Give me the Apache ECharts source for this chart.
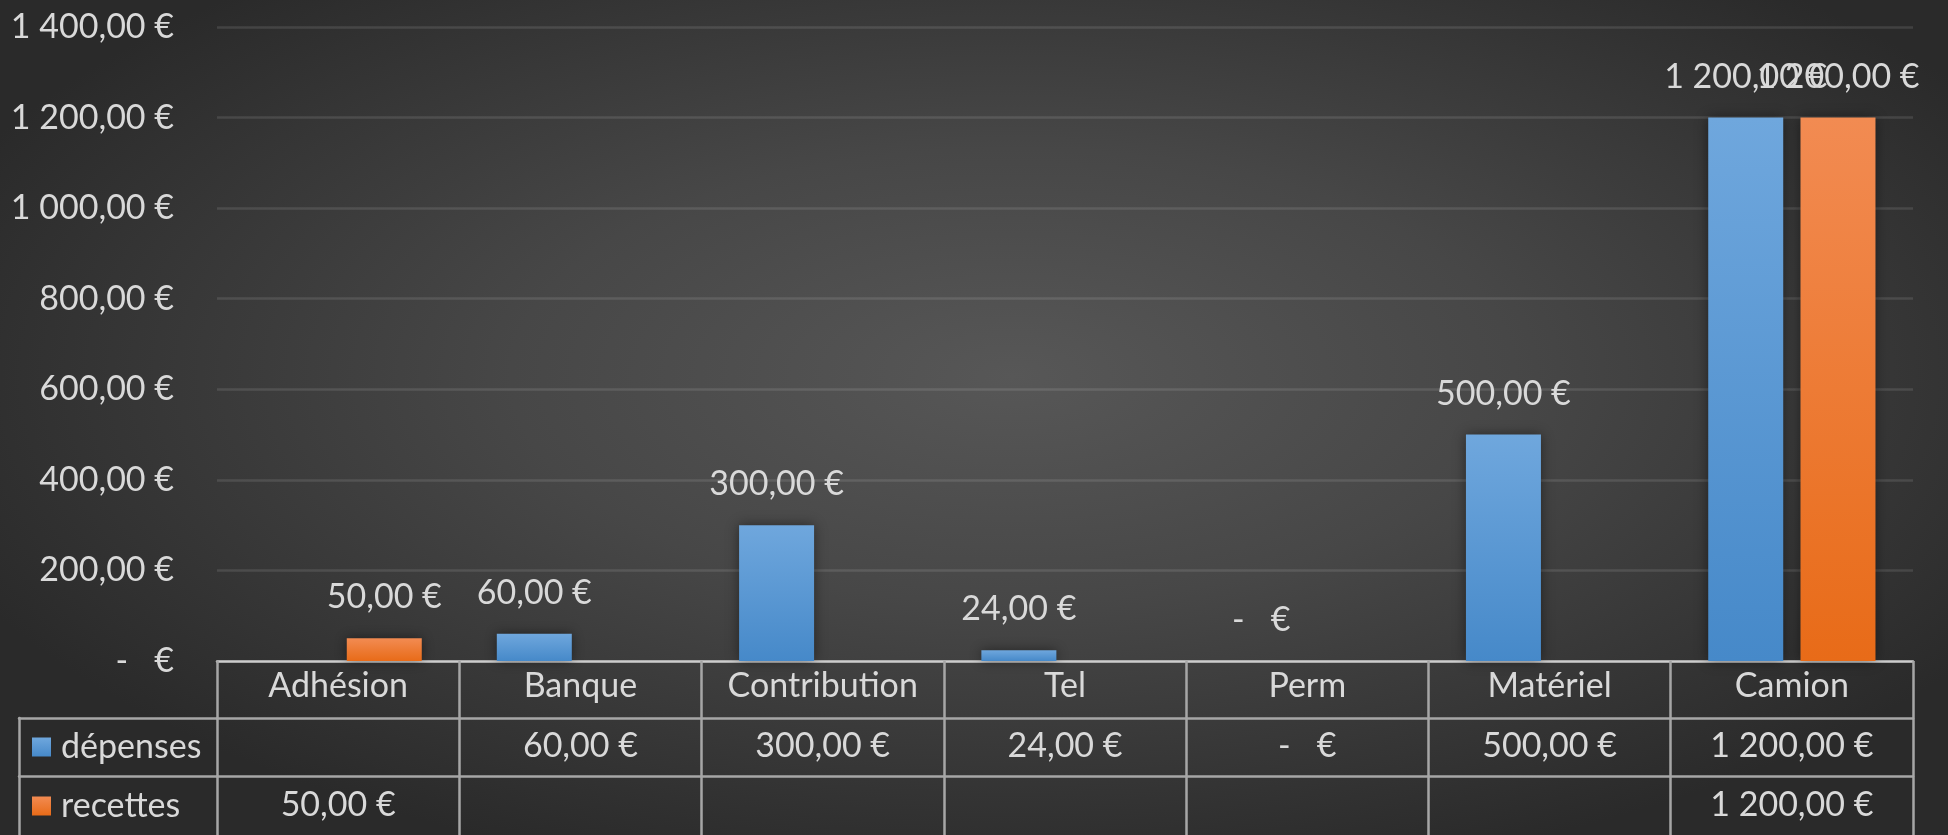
<!DOCTYPE html>
<html>
<head>
<meta charset="utf-8">
<script src="https://cdn.jsdelivr.net/npm/echarts@6/dist/echarts.min.js"></script>
<style>
html,body{margin:0;padding:0;}
#chart{width:1948px;height:835px;background:radial-gradient(ellipse at 52% 45%, #575757 0%, #474747 35%, #2a2a2a 80%);}
</style>
</head>
<body>
<div id="chart"></div>
<script>
const categories = ['Adhésion','Banque','Contribution','Tel','Perm','Matériel','Camion'];
const depenses = [null, 60, 300, 24, 0, 500, 1200];
const recettes = [50, null, null, null, null, null, 1200];
const yTicks = [0, 200, 400, 600, 800, 1000, 1200, 1400];
const seriesNames = ['dépenses','recettes'];

function fmt(v){
  if (v === null || v === undefined) return '';
  if (v === 0) return '-   €';
  const parts = v.toFixed(2).split('.');
  const int = parts[0].replace(/\B(?=(\d{3})+(?!\d))/g, ' ');
  return int + ',' + parts[1] + ' €';
}

const FONT = 'Lato';
const TXT = '#d9d9d9';
const LINE_MAIN = '#cccccc';
const LINE_TAB = '#a6a6a6';
const FS = 34;

// measure row-header text widths so legend keys line up on the left
const ctx = document.createElement('canvas').getContext('2d');
ctx.font = FS + 'px ' + FONT;
const headW = seriesNames.map(n => ctx.measureText(n).width);
const BLOCK = 172;

const blueGrad = new echarts.graphic.LinearGradient(0,0,0,1,[{offset:0,color:'#6fa7dd'},{offset:1,color:'#4689c9'}]);
const orangeGrad = new echarts.graphic.LinearGradient(0,0,0,1,[{offset:0,color:'#f28b52'},{offset:1,color:'#e86b18'}]);
const blueKey = new echarts.graphic.LinearGradient(0,0,0,1,[{offset:0,color:'#6fa7dd'},{offset:1,color:'#4689c9'}]);
const orangeKey = new echarts.graphic.LinearGradient(0,0,0,1,[{offset:0,color:'#f28b52'},{offset:1,color:'#e86b18'}]);

const chart = echarts.init(document.getElementById('chart'), null, {renderer:'canvas'});

function rowHeader(i, keyColor){
  return {
    interval:0, margin:i === 0 ? 12 : 13,
    formatter:(v) => '{m|}{s|}{t|' + v + '}{e|}',
    rich:{
      m:{width:19, height:19, backgroundColor:keyColor},
      s:{width:10},
      t:{color:TXT, fontFamily:FONT, fontSize:FS},
      e:{width:Math.max(0, BLOCK - 29 - headW[i])}
    }
  };
}

const tableAxisBase = {
  type:'category', data:categories, position:'bottom', gridIndex:0,
  axisLine:{show:true, onZero:false, lineStyle:{color:LINE_TAB, width:2.5}},
  axisTick:{show:false}, splitLine:{show:false}
};

chart.setOption({
  backgroundColor:'transparent',
  animation:false,
  textStyle:{fontFamily:FONT},
  grid:[
    {left:217, right:35, top:27, bottom:174},
    {left:19, width:198, top:27, bottom:174},
    {left:19, width:198, top:718, bottom:0}
  ],
  xAxis:[
    {
      type:'category', data:categories, gridIndex:0, position:'bottom',
      axisLine:{show:true, onZero:false, lineStyle:{color:LINE_MAIN, width:2.5}},
      axisTick:{show:true, interval:0, length:174, lineStyle:{color:LINE_TAB, width:2.5}},
      axisLabel:{interval:0, color:TXT, fontFamily:FONT, fontSize:FS, margin:8},
      splitLine:{show:false}
    },
    Object.assign({}, tableAxisBase, {
      offset:57,
      axisLabel:{interval:0, color:TXT, fontFamily:FONT, fontSize:FS, margin:11,
        formatter:(val, idx) => fmt(depenses[idx])}
    }),
    Object.assign({}, tableAxisBase, {
      offset:115,
      axisLabel:{interval:0, color:TXT, fontFamily:FONT, fontSize:FS, margin:12,
        formatter:(val, idx) => fmt(recettes[idx])}
    }),
    {
      type:'category', data:[seriesNames[0]], gridIndex:1, position:'bottom', offset:57,
      axisLine:{show:true, onZero:false, lineStyle:{color:LINE_TAB, width:2.5}},
      axisTick:{show:false},
      axisLabel:rowHeader(0, blueKey),
      splitLine:{show:false}
    },
    {
      type:'category', data:[seriesNames[1]], gridIndex:1, position:'bottom', offset:115,
      axisLine:{show:true, onZero:false, lineStyle:{color:LINE_TAB, width:2.5}},
      axisTick:{show:false},
      axisLabel:rowHeader(1, orangeKey),
      splitLine:{show:false}
    },
    {type:'category', data:[''], gridIndex:2, show:false, axisLine:{onZero:false}}
  ],
  yAxis:[
    {
      type:'value', gridIndex:0, min:yTicks[0], max:yTicks[yTicks.length-1], interval:200,
      axisLine:{show:false}, axisTick:{show:false},
      axisLabel:{color:TXT, fontFamily:FONT, fontSize:FS, margin:43, formatter:(v) => fmt(v)},
      splitLine:{show:true, lineStyle:{color:'rgba(255,255,255,0.11)', width:2.5}}
    },
    {type:'value', gridIndex:1, show:false, axisLine:{show:false}, splitLine:{show:false}},
    {
      type:'value', gridIndex:2, position:'left',
      axisLine:{show:true, onZero:false, lineStyle:{color:LINE_TAB, width:2.5}},
      axisTick:{show:false}, axisLabel:{show:false}, splitLine:{show:false}
    }
  ],
  series:[
    {
      name:seriesNames[0], type:'bar', xAxisIndex:0, yAxisIndex:0, data:depenses,
      barWidth:75, barGap:'23%',
      itemStyle:{color:blueGrad, shadowBlur:12, shadowColor:'rgba(0,0,0,0.45)'},
      label:{show:true, position:'top', distance:24, color:TXT, fontFamily:FONT, fontSize:FS,
        formatter:(p) => fmt(p.value)}
    },
    {
      name:seriesNames[1], type:'bar', xAxisIndex:0, yAxisIndex:0, data:recettes,
      barWidth:75, barGap:'23%',
      itemStyle:{color:orangeGrad, shadowBlur:12, shadowColor:'rgba(0,0,0,0.45)'},
      label:{show:true, position:'top', distance:24, color:TXT, fontFamily:FONT, fontSize:FS,
        formatter:(p) => fmt(p.value)}
    }
  ]
});
</script>
</body>
</html>
